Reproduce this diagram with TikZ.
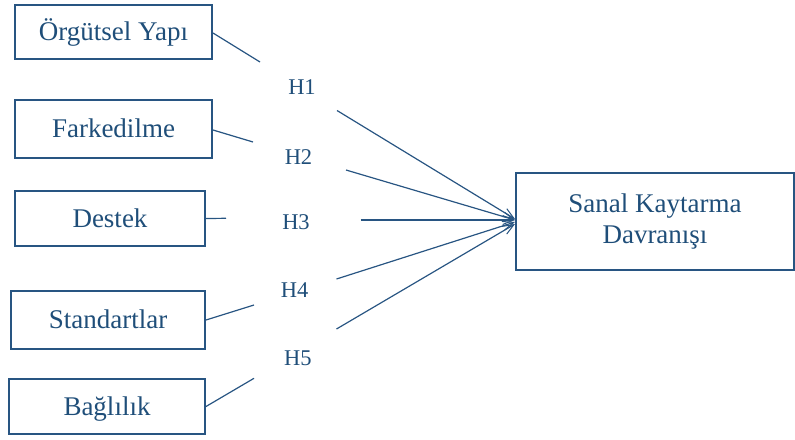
\documentclass[tikz,border=0pt]{standalone}
\usepackage{fontspec}
\setmainfont{Liberation Serif}
\usetikzlibrary{arrows.meta}
\definecolor{txtblue}{RGB}{31,78,121}
\definecolor{lineblue}{RGB}{40,85,130}
\begin{document}
\begin{tikzpicture}[x=1pt,y=-1pt,
  box/.style={draw=lineblue,line width=2pt,rectangle,inner sep=0pt,
    text=txtblue,font=\fontsize{27}{31}\selectfont,text height=17pt,text depth=0pt},
  hlab/.style={text=txtblue,font=\fontsize{22.5}{27}\selectfont,anchor=base,inner sep=0pt},
  conn/.style={draw=lineblue,line width=1.2pt},
  arr/.style={conn,-{Straight Barb[length=11pt,width=9pt,line width=1pt]}}]
\useasboundingbox (0,0) rectangle (795,439);
% boxes
\node[box,minimum width=197pt,minimum height=54pt] (o1) at (113.5,32) {Örgütsel Yapı};
\node[box,minimum width=197pt,minimum height=58pt] (o2) at (113.5,129) {Farkedilme};
\node[box,minimum width=190pt,minimum height=55pt] (o3) at (110,218.5) {Destek};
\node[box,minimum width=194pt,minimum height=58pt] (o4) at (108,320) {Standartlar};
\node[box,minimum width=196pt,minimum height=55pt] (o5) at (107,406.5) {Bağlılık};
\node[box,minimum width=278pt,minimum height=97pt,align=center,text height=,text depth=] (t) at (655,221.5) {Sanal Kaytarma\\Davranışı};
% hypothesis labels
\node[hlab] (h1) at (302,94) {H1};
\node[hlab] (h2) at (298.5,164) {H2};
\node[hlab] (h3) at (296,229.3) {H3};
\node[hlab] (h4) at (294.7,297.3) {H4};
\node[hlab] (h5) at (297.8,365) {H5};
% gap ends and tips
\coordinate (a1) at (260,62);   \coordinate (b1) at (337,110.5);
\coordinate (a2) at (253,142);  \coordinate (b2) at (346,170);
\coordinate (a3) at (226,218.3);\coordinate (b3) at (360.5,220);
\coordinate (a4) at (254,305);  \coordinate (b4) at (336.5,279);
\coordinate (a5) at (254,378.3);\coordinate (b5) at (336.5,329);
\coordinate (t1) at (515,219);
\coordinate (t2) at (515,220);
\coordinate (t3) at (515,220);
\coordinate (t4) at (515,222);
\coordinate (t5) at (515,224);
% connectors
\draw[conn] ([yshift=-1pt]o1.east) -- (a1);
\draw[arr] (b1) -- (t1);
\draw[conn] ([yshift=-1pt]o2.east) -- (a2);
\draw[arr] (b2) -- (t2);
\draw[conn] (o3.east) -- (a3);
\draw[arr] (b3) -- (t3);
\draw[conn] (o4.east) -- (a4);
\draw[arr] (b4) -- (t4);
\draw[conn] (o5.east) -- (a5);
\draw[arr] (b5) -- (t5);
\end{tikzpicture}
\end{document}
